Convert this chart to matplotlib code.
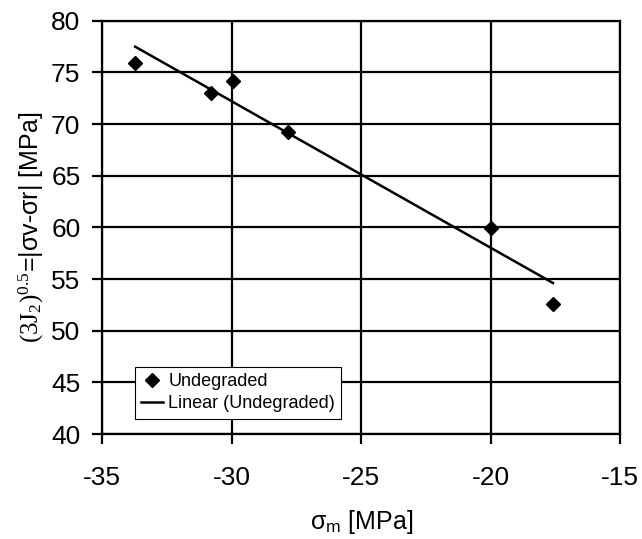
import numpy as np
import matplotlib
matplotlib.use("Agg")
import matplotlib.pyplot as plt

plt.rcParams['font.family'] = ['Liberation Sans', 'DejaVu Sans']
plt.rcParams['mathtext.fontset'] = 'custom'
plt.rcParams['mathtext.rm'] = 'Liberation Serif'
plt.rcParams['mathtext.sf'] = 'Liberation Sans'
plt.rcParams['mathtext.it'] = 'Liberation Serif:italic'
plt.rcParams['axes.unicode_minus'] = False

# Data
sigma_m = [-33.73, -30.81, -29.96, -27.84, -20.0, -17.59]
j2_stress = [75.94, 72.99, 74.13, 69.2, 59.9, 52.6]
x_ticks = [-35, -30, -25, -20, -15]
y_ticks = [40, 45, 50, 55, 60, 65, 70, 75, 80]

fig = plt.figure(figsize=(6.42, 5.39), dpi=100)
ax = fig.add_axes([0.1593, 0.1948, 0.8065, 0.7668])

ax.set_xlim(-35, -15)
ax.set_ylim(40, 80)
ax.set_xticks(x_ticks)
ax.set_yticks(y_ticks)
ax.grid(True, color='black', linewidth=1.6)
ax.set_axisbelow(True)
for s in ax.spines.values():
    s.set_linewidth(1.6)
    s.set_color('black')
ax.tick_params(direction='out', length=7.2, width=1.6, labelsize=19)
ax.tick_params(axis='x', pad=16)
ax.tick_params(axis='y', pad=8.5)

ax.plot(sigma_m, j2_stress, linestyle='none', marker='D', color='black',
        markersize=7, label='Undegraded', zorder=3)

coef = np.polyfit(sigma_m, j2_stress, 1)
xs = np.array([min(sigma_m), max(sigma_m)])
ax.plot(xs, np.polyval(coef, xs), color='black', linewidth=1.8,
        label='Linear (Undegraded)', zorder=3)

leg = ax.legend(loc='lower left', bbox_to_anchor=(0.063, 0.037), borderaxespad=0,
                fontsize=13, frameon=True, fancybox=False, framealpha=1,
                edgecolor='black', handlelength=1.2, handletextpad=0.3,
                borderpad=0.35, labelspacing=0.3)
leg.get_frame().set_linewidth(0.8)

ax.set_xlabel(r'σ$_\mathsf{m}$ [MPa]', fontsize=18, labelpad=13)
ax.set_ylabel(r'$\mathrm{(3J_2)^{0.5}}$=|σv-σr| [MPa]', fontsize=18, labelpad=4)

fig.savefig('out.png', dpi=100)
